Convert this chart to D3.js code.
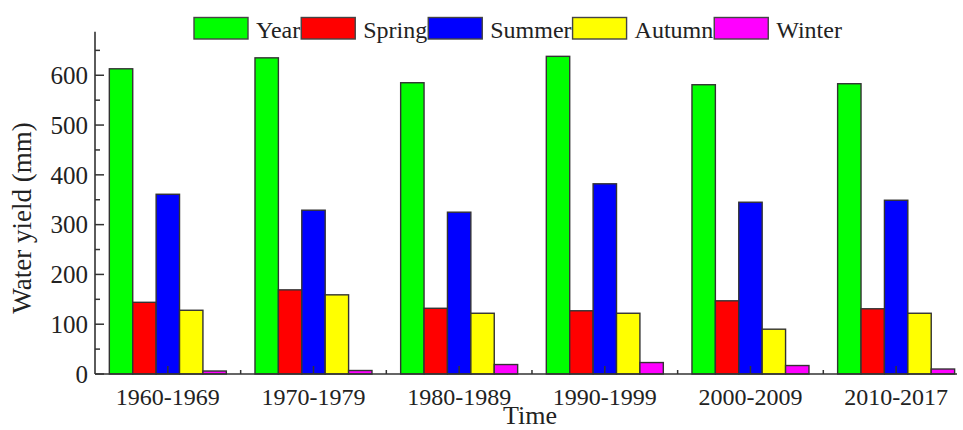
<!DOCTYPE html>
<html>
<head>
<meta charset="utf-8">
<script src="https://cdn.jsdelivr.net/npm/d3@7"></script>
<style>
  html, body { margin: 0; padding: 0; background: #fff; }
  svg { display: block; font-family: "Liberation Serif", "Times New Roman", serif; }
</style>
</head>
<body>
<svg id="chart" width="963" height="430"></svg>
<script>
const categories = ["1960-1969", "1970-1979", "1980-1989", "1990-1999", "2000-2009", "2010-2017"];
const seriesNames = ["Year", "Spring", "Summer", "Autumn", "Winter"];
const yearValues   = [613, 635, 585, 638, 581, 583];
const springValues = [144, 169, 132, 127, 147, 131];
const summerValues = [361, 329, 325, 382, 345, 349];
const autumnValues = [128, 159, 122, 122, 90, 122];
const winterValues = [6, 7, 19, 23, 17, 10];
const yTicks = [0, 100, 200, 300, 400, 500, 600];
const colors = ["#00ff00", "#ff0000", "#0000ff", "#ffff00", "#ff00ff"];

const seriesValues = [yearValues, springValues, summerValues, autumnValues, winterValues];

const svg = d3.select("#chart");
const plotLeft = 95, plotBottom = 374, plotTop = 31.7;
const step = 145.66;
const axisRight = 957;

const x0 = d3.scaleBand().domain(categories).range([plotLeft, plotLeft + step * categories.length]).padding(0);
const groupW = 117;
const x1 = d3.scaleBand().domain(seriesNames).range([-groupW / 2, groupW / 2]).padding(0);
const y = d3.scaleLinear().domain([0, 687.5]).range([plotBottom, plotTop]);

// bars
const groups = svg.append("g").selectAll("g")
  .data(categories)
  .join("g")
  .attr("transform", d => `translate(${x0(d) + x0.bandwidth() / 2},0)`);

groups.selectAll("rect")
  .data((d, i) => seriesNames.map((s, k) => ({ s, k, v: seriesValues[k][i] })))
  .join("rect")
  .attr("x", d => x1(d.s))
  .attr("y", d => y(d.v))
  .attr("width", x1.bandwidth())
  .attr("height", d => plotBottom - y(d.v))
  .attr("fill", d => colors[d.k])
  .attr("stroke", "#333")
  .attr("stroke-width", 1.4);

// y axis
const yAxisG = svg.append("g").attr("transform", `translate(${plotLeft},0)`);
yAxisG.append("line").attr("x1", 0).attr("x2", 0).attr("y1", plotTop).attr("y2", plotBottom)
  .attr("stroke", "#333").attr("stroke-width", 1.6);
const minorY = d3.range(50, 687, 100);
yAxisG.selectAll(".maj").data(yTicks).join("line").attr("class", "maj")
  .attr("x1", 0).attr("x2", 9).attr("y1", d => y(d)).attr("y2", d => y(d))
  .attr("stroke", "#333").attr("stroke-width", 1.5);
yAxisG.selectAll(".min").data(minorY).join("line").attr("class", "min")
  .attr("x1", 0).attr("x2", 5).attr("y1", d => y(d)).attr("y2", d => y(d))
  .attr("stroke", "#333").attr("stroke-width", 1.5);
yAxisG.selectAll("text").data(yTicks).join("text")
  .attr("x", -7).attr("y", d => y(d)).attr("dy", "0.35em")
  .attr("text-anchor", "end").attr("font-size", 25).attr("fill", "#222")
  .text(d => d);

// x axis
const xAxisG = svg.append("g");
xAxisG.append("line").attr("x1", plotLeft).attr("x2", axisRight).attr("y1", plotBottom).attr("y2", plotBottom)
  .attr("stroke", "#333").attr("stroke-width", 1.6);
xAxisG.selectAll(".maj").data(categories).join("line").attr("class", "maj")
  .attr("x1", d => x0(d) + x0.bandwidth() / 2).attr("x2", d => x0(d) + x0.bandwidth() / 2)
  .attr("y1", plotBottom).attr("y2", plotBottom - 8)
  .attr("stroke", "#333").attr("stroke-width", 1.5);
xAxisG.selectAll(".min").data(categories.slice(1)).join("line").attr("class", "min")
  .attr("x1", d => x0(d)).attr("x2", d => x0(d))
  .attr("y1", plotBottom).attr("y2", plotBottom - 4)
  .attr("stroke", "#333").attr("stroke-width", 1.5);
xAxisG.selectAll("text").data(categories).join("text")
  .attr("x", d => x0(d) + x0.bandwidth() / 2).attr("y", 405)
  .attr("text-anchor", "middle").attr("font-size", 24).attr("fill", "#222")
  .text(d => d);

// axis titles
svg.append("text").attr("x", 530).attr("y", 424).attr("text-anchor", "middle")
  .attr("font-size", 26).attr("fill", "#222").text("Time");
svg.append("text").attr("transform", "translate(31,218) rotate(-90)").attr("text-anchor", "middle")
  .attr("font-size", 27).attr("fill", "#222").text("Water yield (mm)");

// legend
const legend = svg.append("g");
let lx = 194;
seriesNames.forEach((name, k) => {
  legend.append("rect").attr("x", lx).attr("y", 17.5).attr("width", 54).attr("height", 21.5)
    .attr("fill", colors[k]).attr("stroke", "#444").attr("stroke-width", 1.4);
  const t = legend.append("text").attr("x", lx + 62).attr("y", 37.5)
    .attr("font-size", 24).attr("fill", "#222").text(name);
  const w = t.node().getComputedTextLength();
  lx = lx + 62 + w + 1;
});
</script>
</body>
</html>
